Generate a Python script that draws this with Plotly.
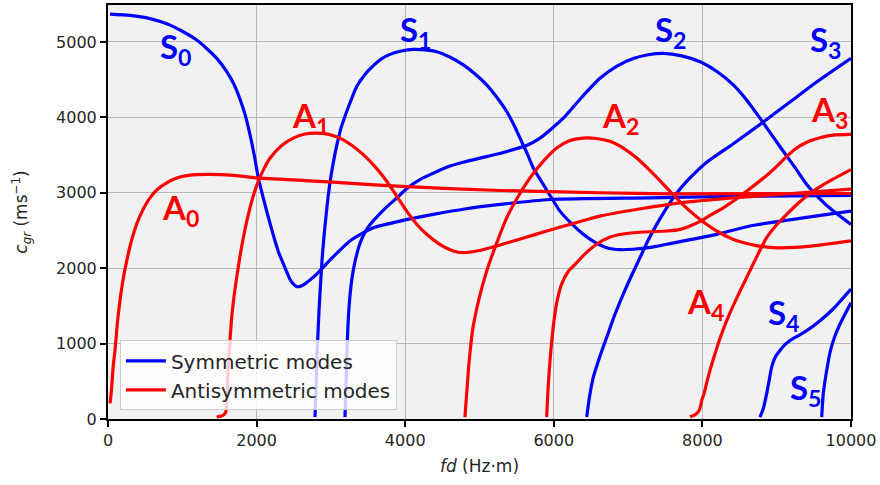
import plotly.graph_objects as go

# ---------------- data ----------------
S0_x = [27, 300, 565, 800, 1013, 1180, 1328, 1470, 1598, 1700, 1777, 1850, 1911, 1970, 2023, 2080, 2136, 2190, 2248, 2300, 2359, 2410, 2450, 2500, 2540, 2600, 2651, 2720, 2809, 3000, 3257, 3571, 4000, 4378, 4800, 5276, 5949, 7295, 8641, 10000]
S0_y = [5369, 5352, 5310, 5238, 5135, 5035, 4914, 4775, 4606, 4430, 4240, 4020, 3770, 3490, 3197, 2970, 2757, 2560, 2361, 2200, 2060, 1940, 1850, 1785, 1755, 1765, 1793, 1845, 1921, 2120, 2361, 2536, 2640, 2713, 2785, 2845, 2911, 2933, 2955, 2964]

S1_x = [2786, 2800, 2809, 2825, 2840, 2860, 2880, 2905, 2934, 2965, 3001, 3040, 3082, 3140, 3213, 3280, 3347, 3450, 3571, 3680, 3795, 3950, 4109, 4270, 4424, 4600, 4782, 4940, 5097, 5230, 5366, 5460, 5545, 5640, 5724, 5859, 6083, 6240, 6397, 6550, 6712, 6900, 7070, 7300, 7520, 8192, 8641, 10000]
S1_y = [26, 400, 775, 1110, 1436, 1780, 2096, 2400, 2691, 2970, 3219, 3440, 3642, 3870, 4078, 4250, 4408, 4560, 4686, 4775, 4835, 4880, 4901, 4895, 4871, 4800, 4695, 4575, 4431, 4270, 4078, 3905, 3725, 3525, 3329, 3110, 2757, 2590, 2449, 2345, 2272, 2245, 2251, 2275, 2317, 2449, 2559, 2757]

S2_x = [3190, 3200, 3213, 3222, 3234, 3250, 3270, 3294, 3324, 3360, 3392, 3440, 3499, 3580, 3661, 3770, 3886, 3970, 4064, 4200, 4334, 4558, 4780, 5007, 5230, 5455, 5640, 5814, 5970, 6128, 6370, 6622, 6850, 7070, 7270, 7474, 7720, 7968, 8200, 8416, 8600, 8775, 8930, 9089, 9250, 9404, 9580, 9762, 10000]
S2_y = [26, 400, 775, 1050, 1330, 1560, 1760, 1930, 2085, 2230, 2330, 2440, 2540, 2640, 2725, 2830, 2930, 3010, 3090, 3175, 3240, 3340, 3405, 3460, 3510, 3572, 3630, 3725, 3850, 3989, 4260, 4518, 4680, 4780, 4830, 4848, 4815, 4738, 4605, 4431, 4225, 3989, 3770, 3550, 3330, 3110, 2920, 2757, 2581]

S3_x = [6443, 6480, 6532, 6620, 6712, 6820, 6935, 7050, 7160, 7270, 7385, 7500, 7608, 7720, 7833, 8058, 8416, 8820, 9179, 9538, 10000]
S3_y = [26, 290, 555, 830, 1083, 1380, 1657, 1910, 2140, 2370, 2581, 2770, 2933, 3075, 3197, 3405, 3650, 3939, 4203, 4468, 4782]

S4_x = [8775, 8820, 8865, 8900, 8932, 8980, 9044, 9110, 9179, 9290, 9404, 9583, 9762, 10000]
S4_y = [26, 140, 336, 520, 687, 820, 908, 985, 1040, 1105, 1172, 1304, 1462, 1723]

S5_x = [9606, 9615, 9627, 9648, 9673, 9717, 9780, 9852, 10000]
S5_y = [26, 180, 336, 490, 643, 880, 1090, 1260, 1542]

A0_x = [27, 38, 50, 70, 94, 125, 161, 205, 252, 315, 386, 470, 565, 670, 790, 900, 1010, 1190, 1370, 1700, 2000, 2500, 3030, 3890, 5280, 6620, 7560, 10000]
A0_y = [207, 300, 430, 700, 908, 1260, 1569, 1860, 2097, 2360, 2585, 2775, 2933, 3050, 3131, 3185, 3219, 3240, 3245, 3230, 3197, 3170, 3140, 3087, 3030, 3000, 2985, 2990]

A1_x = [1463, 1540, 1580, 1598, 1607, 1619, 1640, 1665, 1697, 1732, 1775, 1821, 1865, 1911, 1965, 2023, 2100, 2180, 2330, 2494, 2650, 2809, 2970, 3122, 3280, 3436, 3600, 3751, 3890, 4020, 4150, 4289, 4460, 4647, 4778, 5000, 5232, 5560, 5905, 6250, 6622, 7150, 7699, 8412, 9200, 10000]
A1_y = [26, 45, 80, 180, 420, 687, 1020, 1347, 1630, 1876, 2150, 2404, 2610, 2801, 2990, 3153, 3320, 3457, 3620, 3725, 3780, 3791, 3775, 3725, 3630, 3506, 3340, 3153, 2950, 2757, 2590, 2449, 2320, 2229, 2206, 2235, 2295, 2390, 2493, 2590, 2691, 2785, 2867, 2933, 2990, 3048]

A2_x = [4805, 4815, 4828, 4860, 4913, 5000, 5097, 5230, 5366, 5520, 5680, 5860, 6039, 6210, 6393, 6570, 6756, 6940, 7116, 7320, 7520, 7680, 7833, 8010, 8192, 8410, 8641, 8816, 9000, 9250, 9489, 10000]
A2_y = [26, 180, 340, 760, 1215, 1620, 1964, 2330, 2668, 2950, 3197, 3420, 3593, 3690, 3725, 3720, 3682, 3590, 3461, 3270, 3065, 2900, 2757, 2615, 2493, 2385, 2317, 2285, 2270, 2275, 2295, 2361]

A3_x = [5904, 5915, 5930, 5949, 5990, 6039, 6110, 6190, 6285, 6420, 6577, 6750, 6931, 7200, 7520, 7700, 7833, 7970, 8102, 8280, 8462, 8660, 8865, 9000, 9112, 9250, 9404, 9580, 9758, 10000]
A3_y = [26, 250, 520, 771, 1200, 1540, 1800, 1950, 2050, 2190, 2317, 2410, 2453, 2480, 2493, 2515, 2560, 2620, 2700, 2800, 2920, 3070, 3230, 3350, 3460, 3580, 3670, 3730, 3765, 3775]

A4_x = [7833, 7900, 7950, 7975, 7995, 8020, 8058, 8100, 8142, 8230, 8327, 8460, 8596, 8730, 8865, 9000, 9135, 9300, 9489, 9740, 10000]
A4_y = [30, 55, 100, 170, 260, 330, 480, 640, 776, 1050, 1304, 1600, 1876, 2150, 2404, 2575, 2713, 2870, 3021, 3170, 3308]

x_ticks = [0, 2000, 4000, 6000, 8000, 10000]
y_ticks = [0, 1000, 2000, 3000, 4000, 5000]

labels = ["S<sub>0</sub>", "S<sub>1</sub>", "S<sub>2</sub>", "S<sub>3</sub>", "S<sub>4</sub>", "S<sub>5</sub>",
          "A<sub>0</sub>", "A<sub>1</sub>", "A<sub>2</sub>", "A<sub>3</sub>", "A<sub>4</sub>"]
label_x = [915, 4145, 7577, 9663, 9098, 9394, 969, 2719, 6891, 9717, 8048]
label_y = [4910, 5135, 5135, 5003, 1383, 392, 2783, 3999, 3999, 4078, 1529]

# ---------------- figure ----------------
BLUE = "#0000ff"
RED = "#ff0000"
fig = go.Figure()

anti = [(A0_x, A0_y), (A1_x, A1_y), (A2_x, A2_y), (A3_x, A3_y), (A4_x, A4_y)]
sym = [(S0_x, S0_y), (S1_x, S1_y), (S2_x, S2_y), (S3_x, S3_y), (S4_x, S4_y), (S5_x, S5_y)]

for i, (xs, ys) in enumerate(sym):
    fig.add_trace(go.Scatter(x=xs, y=ys, mode="lines",
                             line=dict(color=BLUE, width=3.2, shape="spline", smoothing=0.6),
                             name="Symmetric modes", legendgroup="S", showlegend=(i == 0),
                             legendrank=1))
for i, (xs, ys) in enumerate(anti):
    fig.add_trace(go.Scatter(x=xs, y=ys, mode="lines",
                             line=dict(color=RED, width=3.2, shape="spline", smoothing=0.6),
                             name="Antisymmetric modes", legendgroup="A", showlegend=(i == 0),
                             legendrank=2))

for txt, lx, ly in zip(labels, label_x, label_y):
    fig.add_annotation(x=lx, y=ly, text="<b>" + txt + "</b>", showarrow=False,
                       font=dict(family="Lato", size=33, color=BLUE if txt.startswith("S") else RED))

axis_common = dict(showline=True, linecolor="black", linewidth=2, mirror=True,
                   ticks="outside", ticklen=6, tickcolor="black", tickwidth=1.5,
                   showgrid=True, gridcolor="#b8b8b8", gridwidth=1, zeroline=False,
                   tickfont=dict(family="DejaVu Sans", size=16, color="#262626"))

fig.update_xaxes(range=[0, 10000], tickvals=x_ticks, ticktext=[str(v) for v in x_ticks],
                 title=dict(text="<i>fd</i> (Hz·m)", font=dict(family="DejaVu Sans", size=17, color="#262626"), standoff=11),
                 **axis_common)
fig.update_yaxes(range=[0, 5490], tickvals=y_ticks, ticktext=[str(v) for v in y_ticks],
                 title=dict(text="<i>c<sub>gr</sub></i> (ms<sup>−1</sup>)", font=dict(family="DejaVu Sans", size=17, color="#262626"), standoff=24),
                 **axis_common)

fig.update_layout(
    width=880, height=485,
    margin=dict(l=108, r=29, t=3, b=66),
    paper_bgcolor="white", plot_bgcolor="#f1f1f1",
    showlegend=True,
    legend=dict(x=0.016, y=0.021, xanchor="left", yanchor="bottom",
                bgcolor="rgba(255,255,255,0.8)", bordercolor="#cccccc", borderwidth=1,
                font=dict(family="DejaVu Sans", size=20, color="#262626"),
                tracegroupgap=0, itemwidth=40),
)

fig.write_html("out.html")
